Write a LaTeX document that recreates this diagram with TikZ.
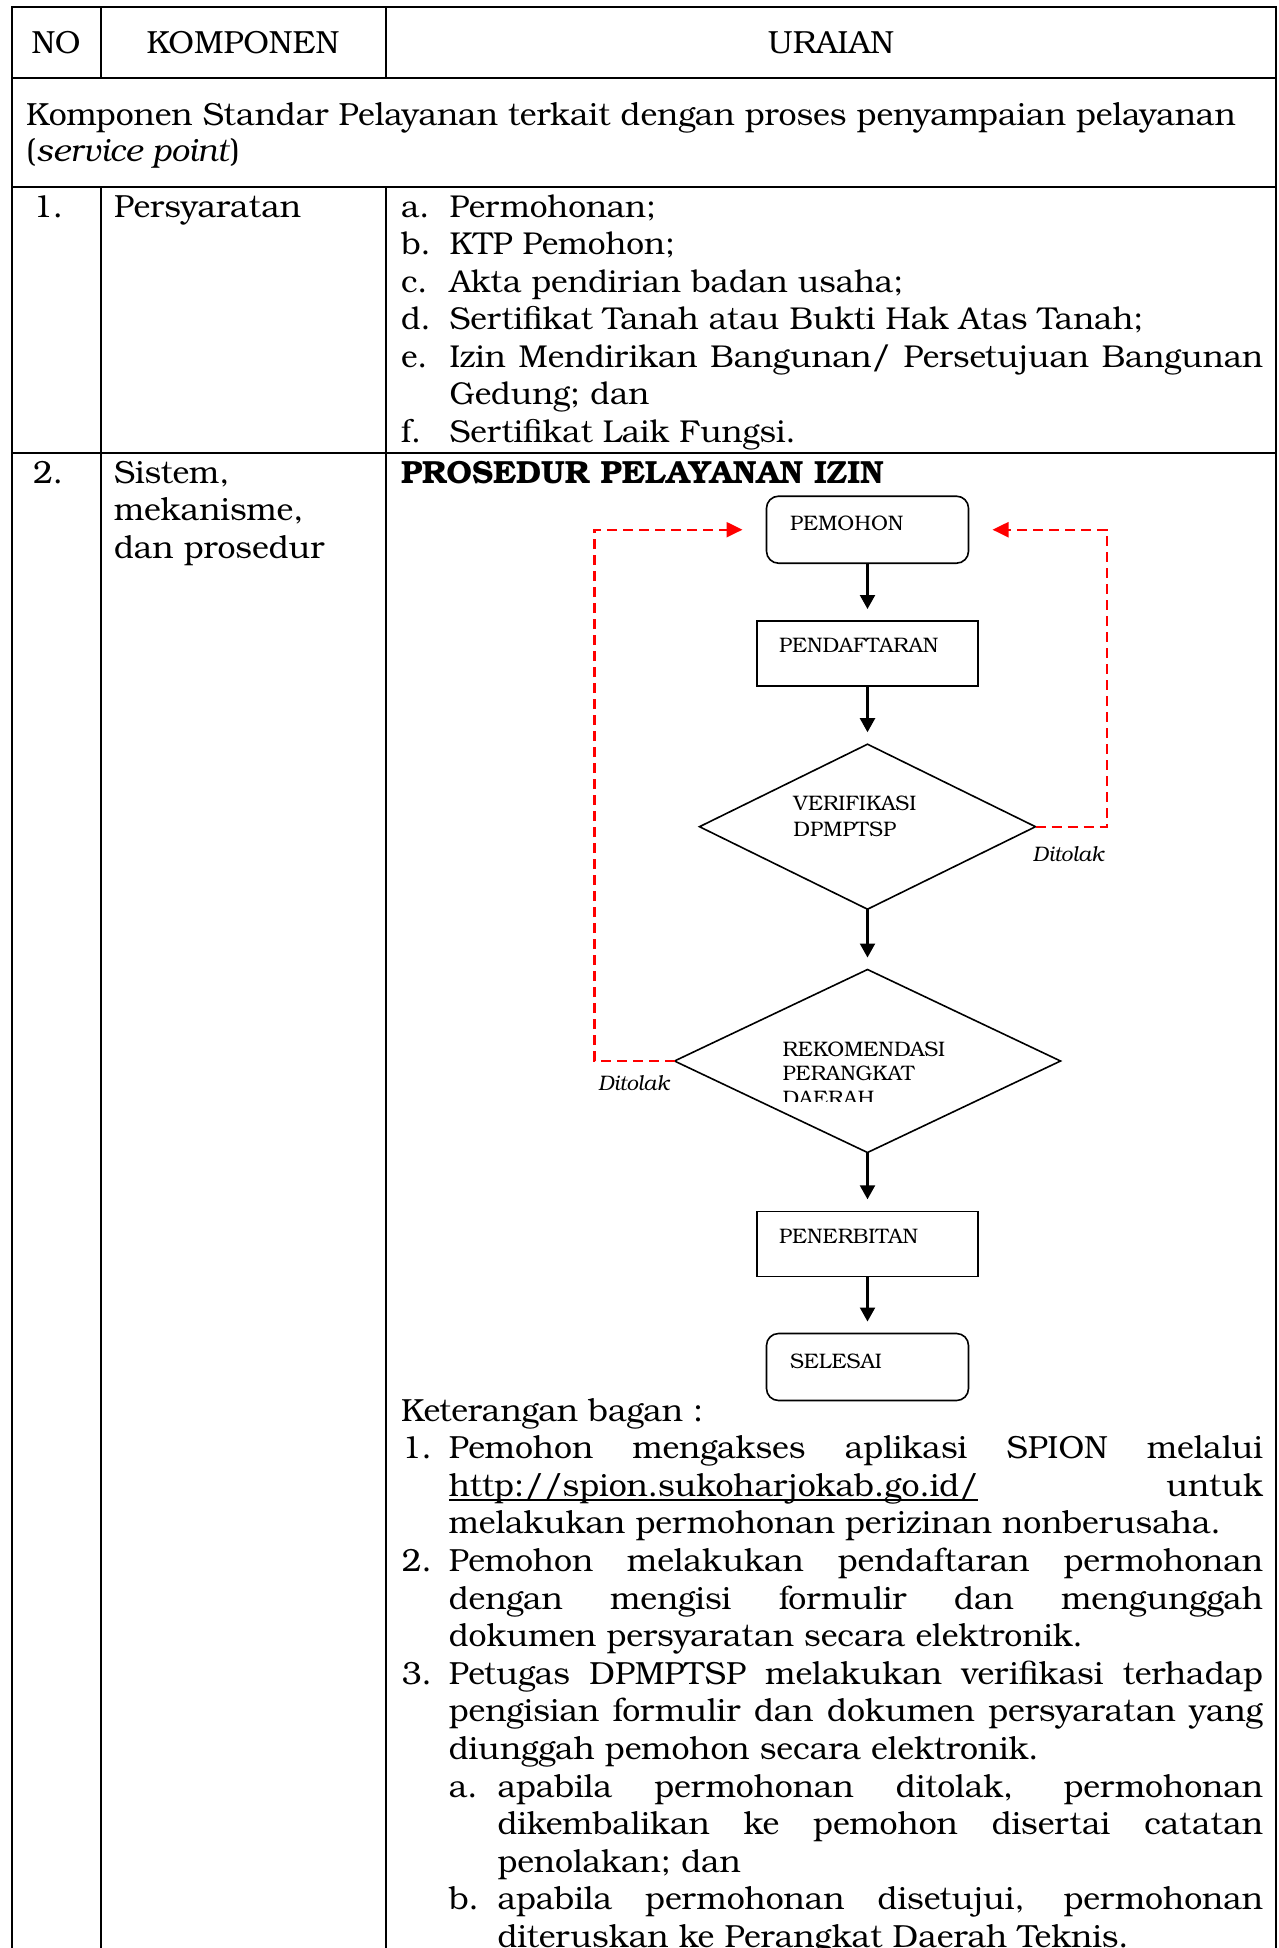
\documentclass[tikz,border=0pt]{standalone}
\usepackage{fontspec}
\setmainfont{TeX Gyre Bonum}
\usetikzlibrary{shapes.geometric,arrows.meta}

\definecolor{rejred}{RGB}{255,0,0}
\newcommand{\bodysize}{\fontsize{32}{37.5}\selectfont}
\newcommand{\listsize}{\fontsize{31.6}{37.5}\selectfont}
\newcommand{\chartsize}{\fontsize{21}{24.5}\selectfont}
% a justified line of given width
\newcommand{\jline}[2]{\makebox[#1][s]{#2}}
% underline sitting close to the baseline, as for a web link
\newsavebox{\linkbox}
\newcommand{\linkline}[1]{\sbox{\linkbox}{#1}\rlap{\rule[-5pt]{\wd\linkbox}{2pt}}\usebox{\linkbox}}

\tikzset{
  grid/.style={line width=2.2pt, line cap=rect},
  body/.style={anchor=base west, inner sep=0pt, outer sep=0pt, font=\bodysize},
  item/.style={body, font=\listsize},
  head/.style={anchor=base, inner sep=0pt, outer sep=0pt, font=\bodysize},
  chart/.style={anchor=base west, inner sep=0pt, outer sep=0pt, font=\chartsize},
  stepbox/.style={draw, line width=1.6pt, inner sep=0pt, outer sep=0pt,
    minimum width=221pt, minimum height=65pt},
  termbox/.style={stepbox, rounded corners=12pt, minimum width=202pt, minimum height=67pt},
  decision/.style={diamond, draw, line width=1.6pt, inner sep=0pt, outer sep=0pt},
  flow/.style={line width=2.2pt, -{Triangle[length=14pt,width=15pt]}, shorten >=12pt},
  reject/.style={draw=rejred, line width=2.2pt, dash pattern=on 10pt off 6pt,
    -{Triangle[length=16pt,width=15pt,fill=rejred]}, shorten >=24pt},
}

\begin{document}
\begin{tikzpicture}[x=1pt,y=-1pt]
\useasboundingbox (0,0) rectangle (1279,1948);
\clip (0,0) rectangle (1279,1948);
\fill[white] (0,0) rectangle (1279,1948);

% ---------- table rules ----------
\draw[grid] (11.7,1960) -- (11.7,7.3) -- (1276,7.3) -- (1276,1960);
\draw[grid] (11.7,77.7) -- (1276,77.7);
\draw[grid] (11.7,186.7) -- (1276,186.7);
\draw[grid] (11.7,452.7) -- (1276,452.7);
\draw[grid] (100.7,7.3) -- (100.7,77.7);
\draw[grid] (386,7.3) -- (386,77.7);
\draw[grid] (100.7,186.7) -- (100.7,1960);
\draw[grid] (386,186.7) -- (386,1960);

% ---------- header ----------
\node[head] (hno)  at (56,53.3)  {NO};
\node[head] (hkom) at (243,53.3) {KOMPONEN};
\node[head] (hura) at (831,53.3) {URAIAN};

% ---------- section row ----------
\node[body] (sec1) at (26,125) {Komponen Standar Pelayanan terkait dengan proses penyampaian pelayanan};
\node[body] (sec2) at (26,161.5) {(\textit{service point})};

% ---------- row 1 ----------
\node[body] (n1) at (33,217) {1.};
\node[body] (k1) at (114,217) {Persyaratan};
\node[item] (r1a) at (401,217)   {a.};
\node[item] (r1at) at (449.5,217) {Permohonan;};
\node[item] (r1b) at (401,254.5) {b.};
\node[item] (r1bt) at (449.5,254.5) {KTP Pemohon;};
\node[item] (r1c) at (401,292)   {c.};
\node[item] (r1ct) at (449.5,292) {Akta pendirian badan usaha;};
\node[item] (r1d) at (401,329.5) {d.};
\node[item] (r1dt) at (449.5,329.5) {Sertifikat Tanah atau Bukti Hak Atas Tanah;};
\node[item] (r1e) at (401,367)   {e.};
\node[item] (r1et) at (449.5,367) {\jline{813.5pt}{Izin Mendirikan Bangunan/ Persetujuan Bangunan}};
\node[item] (r1et2) at (449.5,404.5) {Gedung; dan};
\node[item] (r1f) at (401,442)   {f.};
\node[item] (r1ft) at (449.5,442) {Sertifikat Laik Fungsi.};

% ---------- row 2 ----------
\node[body] (n2) at (33,483) {2.};
\node[body] (k2a) at (114,483) {Sistem,};
\node[body] (k2b) at (114,520.5) {mekanisme,};
\node[body] (k2c) at (114,558) {dan prosedur};
\node[body] (title) at (401,483) {\textbf{PROSEDUR PELAYANAN IZIN}};

% ---------- flowchart ----------
\node[termbox] (pemohon) at (867.5,529.7) {};
\node[stepbox] (daftar) at (867.5,653.5) {};
\node[decision, minimum width=336pt, minimum height=165pt] (ver) at (867.5,826.7) {};
\node[decision, minimum width=386pt, minimum height=183pt] (rek) at (867.5,1061) {};
\node[stepbox] (terbit) at (867.5,1243.8) {};
\node[termbox] (selesai) at (867.5,1367) {};

\node[chart] (tpem) at (790,530) {PEMOHON};
\node[chart] (tdaf) at (779,652.3) {PENDAFTARAN};
\node[chart] (tver1) at (793.4,810.7) {VERIFIKASI};
\node[chart] (tver2) at (793.4,836) {DPMPTSP};
\node[chart] (trek1) at (782.7,1056) {REKOMENDASI};
\node[chart] (trek2) at (782.7,1080.5) {PERANGKAT};
\begin{scope}
  \clip (770,1060) rectangle (1000,1101.7);
  \node[chart] (trek3) at (782.7,1105) {DAERAH};
\end{scope}
\node[chart] (tter) at (779,1243) {PENERBITAN};
\node[chart] (tsel) at (790,1368) {SELESAI};

\node[chart] (dtr) at (1032.7,861.7) {\textit{Ditolak}};
\node[chart] (dtl) at (598,1090.7) {\textit{Ditolak}};

\draw[flow] (pemohon.south) -- (daftar.north);
\draw[flow] (daftar.south) -- (ver.north);
\draw[flow] (ver.south) -- (rek.north);
\draw[flow] (rek.south) -- (terbit.north);
\draw[flow] (terbit.south) -- (selesai.north);

\coordinate (rturn) at (1106.7,529.7);
\coordinate (lturn) at (594.5,529.7);
\draw[reject] (ver.east) -| (rturn) -- (pemohon.east);
\draw[reject] (rek.west) -| (lturn) -- (pemohon.west);

% ---------- legend ----------
\node[body] (kt) at (401,1421) {Keterangan bagan :};
\node[body] (l1) at (401.8,1458.6) {1.};
\node[body] (l1a) at (448.8,1458.6) {\jline{814.2pt}{Pemohon mengakses aplikasi SPION melalui}};
\node[body] (l1b) at (448.8,1496.2) {\jline{814.2pt}{\linkline{http://spion.sukoharjokab.go.id/} untuk}};
\node[body] (l1c) at (448.8,1533.8) {melakukan permohonan perizinan nonberusaha.};
\node[body] (l2) at (401.8,1571.4) {2.};
\node[body] (l2a) at (448.8,1571.4) {\jline{814.2pt}{Pemohon melakukan pendaftaran permohonan}};
\node[body] (l2b) at (448.8,1609) {\jline{814.2pt}{dengan mengisi formulir dan mengunggah}};
\node[body] (l2c) at (448.8,1646.6) {dokumen persyaratan secara elektronik.};
\node[body] (l3) at (401.8,1684.2) {3.};
\node[body] (l3a) at (448.8,1684.2) {\jline{814.2pt}{Petugas DPMPTSP melakukan verifikasi terhadap}};
\node[body] (l3b) at (448.8,1721.8) {\jline{814.2pt}{pengisian formulir dan dokumen persyaratan yang}};
\node[body] (l3c) at (448.8,1759.4) {diunggah pemohon secara elektronik.};
\node[body] (sa) at (448.8,1797) {a.};
\node[body] (saa) at (497.5,1797) {\jline{765.5pt}{apabila permohonan ditolak, permohonan}};
\node[body] (sab) at (497.5,1834.6) {\jline{765.5pt}{dikembalikan ke pemohon disertai catatan}};
\node[body] (sac) at (497.5,1872.2) {penolakan; dan};
\node[body] (sb) at (448.8,1909.8) {b.};
\node[body] (sba) at (497.5,1909.8) {\jline{765.5pt}{apabila permohonan disetujui, permohonan}};
\node[body] (sbb) at (497.5,1947.4) {diteruskan ke Perangkat Daerah Teknis.};
\end{tikzpicture}
\end{document}
